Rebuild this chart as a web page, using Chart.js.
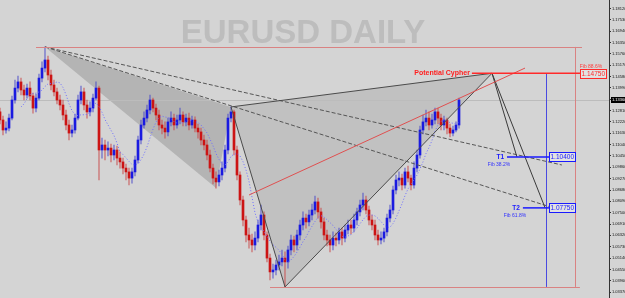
<!DOCTYPE html>
<html>
<head>
<meta charset="utf-8">
<title>EURUSD Daily</title>
<script src="https://cdn.jsdelivr.net/npm/chart.js@4.4.0/dist/chart.umd.min.js"></script>
<style>
  html, body { margin: 0; padding: 0; background: #d4d4d4; }
  #wrap { width: 625px; height: 298px; }
</style>
</head>
<body>
<div id="wrap"><canvas id="chart" width="625" height="298"></canvas></div>
<script>
// Daily candles
const opens = [
  1.1274,1.1232,1.1180,1.1190,1.1242,1.1336,1.1398,1.1430,1.1388,1.1362,
  1.1398,1.1357,1.1294,1.1346,1.1450,1.1502,1.1544,1.1466,1.1414,1.1378,
  1.1336,1.1310,1.1258,1.1206,1.1164,1.1180,1.1242,1.1336,1.1378,1.1310,
  1.1274,1.1294,1.1346,1.1398,1.1076,1.1102,1.1076,1.1086,1.1050,1.1076,
  1.1034,1.1014,1.0982,1.0962,1.0930,1.0962,1.1024,1.1128,1.1206,1.1242,
  1.1284,1.1336,1.1294,1.1258,1.1206,1.1190,1.1170,1.1222,1.1242,1.1206,
  1.1232,1.1258,1.1222,1.1242,1.1206,1.1232,1.1190,1.1170,1.1128,1.1102,
  1.1050,1.0982,1.0930,1.0910,1.0946,1.0982,1.1076,1.1242,1.1274,1.1076,
  1.0946,1.0816,1.0712,1.0634,1.0608,1.0582,1.0618,1.0686,1.0738,1.0634,
  1.0514,1.0442,1.0452,1.0478,1.0494,1.0514,1.0494,1.0556,1.0608,1.0582,
  1.0634,1.0686,1.0722,1.0702,1.0738,1.0764,1.0806,1.0754,1.0702,1.0634,
  1.0608,1.0582,1.0618,1.0608,1.0650,1.0618,1.0660,1.0686,1.0670,1.0712,
  1.0754,1.0790,1.0816,1.0764,1.0712,1.0686,1.0634,1.0608,1.0618,1.0650,
  1.0722,1.0764,1.0868,1.0920,1.0930,1.0894,1.0962,1.0930,1.0894,1.0982,
  1.1050,1.1180,1.1222,1.1242,1.1206,1.1232,1.1274,1.1242,1.1206,1.1232,
  1.1190,1.1164,1.1180,1.1206
];
const highs = [
  1.1294,1.1253,1.1222,1.1263,1.1357,1.1440,1.1461,1.1450,1.1414,1.1419,
  1.1430,1.1372,1.1367,1.1471,1.1534,1.1612,1.1565,1.1492,1.1440,1.1398,
  1.1362,1.1336,1.1284,1.1232,1.1206,1.1263,1.1362,1.1409,1.1398,1.1336,
  1.1326,1.1367,1.1430,1.1409,1.1138,1.1128,1.1118,1.1107,1.1102,1.1097,
  1.1066,1.1034,1.1003,1.0982,1.0982,1.1045,1.1149,1.1232,1.1274,1.1310,
  1.1362,1.1346,1.1315,1.1284,1.1232,1.1222,1.1242,1.1274,1.1263,1.1258,
  1.1294,1.1274,1.1263,1.1268,1.1253,1.1248,1.1211,1.1190,1.1154,1.1128,
  1.1076,1.1003,1.0962,1.0972,1.1014,1.1102,1.1263,1.1300,1.1284,1.1097,
  1.0962,1.0837,1.0733,1.0670,1.0639,1.0650,1.0712,1.0790,1.0754,1.0650,
  1.0535,1.0483,1.0504,1.0530,1.0556,1.0546,1.0577,1.0634,1.0629,1.0660,
  1.0712,1.0754,1.0743,1.0764,1.0795,1.0837,1.0826,1.0774,1.0722,1.0660,
  1.0634,1.0650,1.0644,1.0670,1.0670,1.0686,1.0712,1.0712,1.0743,1.0774,
  1.0816,1.0852,1.0837,1.0785,1.0738,1.0712,1.0660,1.0650,1.0670,1.0743,
  1.0790,1.0889,1.0946,1.0962,1.0951,1.0982,1.0993,1.0946,1.1014,1.1076,
  1.1201,1.1258,1.1284,1.1274,1.1263,1.1294,1.1294,1.1263,1.1253,1.1242,
  1.1211,1.1201,1.1222,1.1346
];
const lows = [
  1.1211,1.1154,1.1164,1.1175,1.1232,1.1320,1.1378,1.1362,1.1336,1.1346,
  1.1336,1.1268,1.1274,1.1336,1.1430,1.1482,1.1440,1.1388,1.1357,1.1315,
  1.1284,1.1232,1.1180,1.1128,1.1144,1.1164,1.1232,1.1315,1.1284,1.1242,
  1.1253,1.1274,1.1336,1.0920,1.1034,1.1024,1.1045,1.1014,1.1024,1.0998,
  1.0982,1.0951,1.0920,1.0894,1.0904,1.0941,1.1008,1.1107,1.1190,1.1222,
  1.1263,1.1274,1.1232,1.1180,1.1159,1.1138,1.1149,1.1201,1.1180,1.1190,
  1.1211,1.1201,1.1201,1.1180,1.1190,1.1170,1.1138,1.1102,1.1076,1.1024,
  1.0962,1.0899,1.0878,1.0889,1.0920,1.0962,1.1055,1.1222,1.1050,1.0920,
  1.0790,1.0681,1.0598,1.0566,1.0546,1.0556,1.0598,1.0660,1.0608,1.0494,
  1.0400,1.0410,1.0426,1.0452,1.0473,1.0364,1.0462,1.0530,1.0546,1.0556,
  1.0608,1.0660,1.0670,1.0681,1.0712,1.0743,1.0722,1.0670,1.0608,1.0577,
  1.0546,1.0556,1.0577,1.0587,1.0582,1.0598,1.0639,1.0639,1.0650,1.0686,
  1.0733,1.0764,1.0743,1.0686,1.0660,1.0608,1.0582,1.0587,1.0598,1.0629,
  1.0702,1.0743,1.0847,1.0889,1.0868,1.0878,1.0910,1.0868,1.0878,1.0962,
  1.1034,1.1159,1.1201,1.1180,1.1190,1.1211,1.1211,1.1180,1.1180,1.1159,
  1.1144,1.1149,1.1170,1.1190
];
const closes = [
  1.1232,1.1180,1.1190,1.1242,1.1336,1.1398,1.1430,1.1388,1.1362,1.1398,
  1.1357,1.1294,1.1346,1.1450,1.1502,1.1544,1.1466,1.1414,1.1378,1.1336,
  1.1310,1.1258,1.1206,1.1164,1.1180,1.1242,1.1336,1.1378,1.1310,1.1274,
  1.1294,1.1346,1.1398,1.1076,1.1102,1.1076,1.1086,1.1050,1.1076,1.1034,
  1.1014,1.0982,1.0962,1.0930,1.0962,1.1024,1.1128,1.1206,1.1242,1.1284,
  1.1336,1.1294,1.1258,1.1206,1.1190,1.1170,1.1222,1.1242,1.1206,1.1232,
  1.1258,1.1222,1.1242,1.1206,1.1232,1.1190,1.1170,1.1128,1.1102,1.1050,
  1.0982,1.0930,1.0910,1.0946,1.0982,1.1076,1.1242,1.1274,1.1076,1.0946,
  1.0816,1.0712,1.0634,1.0608,1.0582,1.0618,1.0686,1.0738,1.0634,1.0514,
  1.0442,1.0452,1.0478,1.0494,1.0514,1.0494,1.0556,1.0608,1.0582,1.0634,
  1.0686,1.0722,1.0702,1.0738,1.0764,1.0806,1.0754,1.0702,1.0634,1.0608,
  1.0582,1.0618,1.0608,1.0650,1.0618,1.0660,1.0686,1.0670,1.0712,1.0754,
  1.0790,1.0816,1.0764,1.0712,1.0686,1.0634,1.0608,1.0618,1.0650,1.0722,
  1.0764,1.0868,1.0920,1.0930,1.0894,1.0962,1.0930,1.0894,1.0982,1.1050,
  1.1180,1.1222,1.1242,1.1206,1.1232,1.1274,1.1242,1.1206,1.1232,1.1190,
  1.1164,1.1180,1.1206,1.1336
];

// price axis labels
const yTicks = [
  1.1812,1.1753,1.1694,1.1635,1.1576,1.1517,1.1458,1.1399,1.1340,1.1281,
  1.1222,1.1163,1.1104,1.1045,1.0986,1.0927,1.0868,1.0809,1.0750,1.0691,
  1.0632,1.0573,1.0514,1.0455,1.0396,1.0337
];

// Cypher pattern X A B C D (bar index / price)
const patternIdx = [15, 72, 77, 95, 164];
const patternPrice = [1.1612, 1.0878, 1.1300, 1.0364, 1.1475];

// red trend line and dashed rays from X
const trendIdx = [83, 175];
const trendPrice = [1.0842, 1.1502];
const rayEndIdx = [187.3, 187.7];
const rayEndPrice = [1.0998, 1.0759];

// targets
const targetNames = ['T1', 'T2'];
const targetFibs = ['Fib 38.2%', 'Fib 61.8%'];
const targetPrice = [1.1040, 1.0775];
const targetHitIdx = [172.3, 181.7];
const targetLineStart = [169, 174.3];
const dLabel = 'Potential Cypher';
const dFib = 'Fib 88.6%';
const dLineStart = 157.3;
const boxIdx = 183;
const blueVertIdx = 182;
const redVertIdx = 191.7;
const xLevelSpan = [12, 194];
const cLevelSpan = [90, 193.3];
const titleText = 'EURUSD DAILY';

const maPeriod = 8;
const maValues = closes.map((c, i) => {
  if (i < maPeriod - 1) return null;
  let s = 0;
  for (let k = i - maPeriod + 1; k <= i; k++) s += closes[k];
  return s / maPeriod;
});

const bull = closes.map((c, i) => c >= opens[i]);
const bodyColors = bull.map(b => b ? '#1a1ae0' : '#cc1414');
const wickColors = bull.map(b => b ? 'rgba(70,70,200,0.55)' : 'rgba(200,70,70,0.55)');

const fmt = v => v.toFixed(5);

const overlayPlugin = {
  id: 'overlay',
  beforeDatasetsDraw(chart) {
    const ctx = chart.ctx;
    const X = v => chart.scales.x.getPixelForValue(v);
    const Y = v => chart.scales.y.getPixelForValue(v);
    const area = chart.chartArea;
    ctx.save();
    ctx.beginPath();
    ctx.rect(area.left, area.top, area.right - area.left, area.bottom - area.top);
    ctx.clip();

    // watermark
    ctx.fillStyle = '#bdbdbd';
    ctx.font = 'bold 33px "Liberation Sans", Arial, sans-serif';
    ctx.textAlign = 'center';
    ctx.textBaseline = 'middle';
    ctx.fillText(titleText, 303, 34);

    const P = k => [X(patternIdx[k]), Y(patternPrice[k])];
    // XAB triangle
    ctx.fillStyle = '#b4b4b4';
    ctx.beginPath();
    ctx.moveTo(...P(0)); ctx.lineTo(...P(1)); ctx.lineTo(...P(2)); ctx.closePath();
    ctx.fill();
    // BCD triangle
    ctx.fillStyle = '#c1c1c1';
    ctx.beginPath();
    ctx.moveTo(...P(2)); ctx.lineTo(...P(3)); ctx.lineTo(...P(4)); ctx.closePath();
    ctx.fill();

    // current price line
    const yl = Math.round(Y(closes[closes.length - 1])) + 0.5;
    ctx.strokeStyle = '#bcbcbc';
    ctx.lineWidth = 1;
    ctx.beginPath(); ctx.moveTo(area.left, yl); ctx.lineTo(area.right, yl); ctx.stroke();
    ctx.restore();
  },
  afterDatasetsDraw(chart) {
    const ctx = chart.ctx;
    const X = v => chart.scales.x.getPixelForValue(v);
    const Y = v => chart.scales.y.getPixelForValue(v);
    const r = v => Math.round(v) + 0.5;
    const line = (x1, y1, x2, y2) => { ctx.beginPath(); ctx.moveTo(x1, y1); ctx.lineTo(x2, y2); ctx.stroke(); };
    const P = k => [X(patternIdx[k]), Y(patternPrice[k])];
    ctx.save();
    ctx.lineWidth = 1;

    // dashed rays from X
    ctx.strokeStyle = '#555555';
    ctx.setLineDash([4, 2]);
    for (let k = 0; k < 2; k++) line(...P(0), X(rayEndIdx[k]), Y(rayEndPrice[k]));
    ctx.setLineDash([]);

    // pattern legs
    ctx.strokeStyle = '#4a4a4a';
    line(...P(2), ...P(3));
    line(...P(3), ...P(4));
    line(...P(2), ...P(4));

    // projection legs from D
    ctx.strokeStyle = '#3a3a3a';
    for (let k = 0; k < 2; k++) line(...P(4), X(targetHitIdx[k]), Y(targetPrice[k]));

    // red trend line
    ctx.strokeStyle = '#e05050';
    line(X(trendIdx[0]), Y(trendPrice[0]), X(trendIdx[1]), Y(trendPrice[1]));

    // range box lines
    ctx.strokeStyle = '#d98282';
    line(X(xLevelSpan[0]), r(Y(patternPrice[0])), X(xLevelSpan[1]), r(Y(patternPrice[0])));
    line(X(cLevelSpan[0]), r(Y(patternPrice[3])), X(cLevelSpan[1]), r(Y(patternPrice[3])));
    line(r(X(redVertIdx)), Y(patternPrice[0]), r(X(redVertIdx)), Y(patternPrice[3]));
    ctx.strokeStyle = '#4a4ae0';
    line(r(X(blueVertIdx)), Y(patternPrice[4]), r(X(blueVertIdx)), Y(patternPrice[3]));

    // D level
    const yd = Y(patternPrice[4]);
    ctx.strokeStyle = '#ff2a2a';
    ctx.lineWidth = 1.5;
    line(X(dLineStart), yd, X(xLevelSpan[1]), yd);
    ctx.lineWidth = 1;
    ctx.fillStyle = '#ff1e1e';
    ctx.font = 'bold 7px "Liberation Sans", Arial, sans-serif';
    ctx.textAlign = 'right';
    ctx.textBaseline = 'middle';
    ctx.fillText(dLabel, X(dLineStart) - 2, yd - 0.5);
    ctx.font = '5px "Liberation Sans", Arial, sans-serif';
    ctx.textAlign = 'center';
    ctx.fillStyle = '#ff3b3b';
    ctx.fillText(dFib, X(xLevelSpan[1]) + 9, yd - 7);
    const drawBox = (x, y, text, color) => {
      ctx.font = '6.5px "Liberation Sans", Arial, sans-serif';
      const w = ctx.measureText(text).width + 3;
      ctx.fillStyle = '#e2e2e2';
      ctx.fillRect(x, y - 4.5, w, 9);
      ctx.strokeStyle = color;
      ctx.strokeRect(Math.round(x) + 0.5, Math.round(y - 4.5) + 0.5, Math.round(w), 9);
      ctx.fillStyle = color;
      ctx.textAlign = 'left';
      ctx.textBaseline = 'middle';
      ctx.fillText(text, x + 1.5, y + 0.5);
    };
    drawBox(X(xLevelSpan[1]) - 2, yd, fmt(patternPrice[4]), '#ff2a2a');

    // targets
    for (let k = 0; k < 2; k++) {
      const yt = Y(targetPrice[k]);
      ctx.strokeStyle = '#1a1aff';
      ctx.lineWidth = 1.5;
      line(X(targetLineStart[k]), yt, X(boxIdx), yt);
      ctx.lineWidth = 1;
      ctx.fillStyle = '#1a1aff';
      ctx.font = 'bold 6.5px "Liberation Sans", Arial, sans-serif';
      ctx.textAlign = 'right';
      ctx.textBaseline = 'middle';
      ctx.fillText(targetNames[k], X(targetLineStart[k]) - 3, yt);
      ctx.font = '5px "Liberation Sans", Arial, sans-serif';
      ctx.textAlign = 'center';
      ctx.fillStyle = '#3030ff';
      ctx.fillText(targetFibs[k], X(targetLineStart[k]) - 8, yt + 8);
      drawBox(X(boxIdx), yt, fmt(targetPrice[k]), '#1a1aff');
    }
    ctx.restore();
  },
  afterDraw(chart) {
    const ctx = chart.ctx;
    const ys = chart.scales.y;
    const y = ys.getPixelForValue(closes[closes.length - 1]);
    ctx.save();
    ctx.fillStyle = '#000';
    ctx.fillRect(ys.left + 2, Math.round(y) - 3, ys.right - ys.left - 2, 6);
    ctx.fillStyle = '#fff';
    ctx.font = '4px "Liberation Sans", Arial, sans-serif';
    ctx.textAlign = 'left';
    ctx.textBaseline = 'middle';
    ctx.fillText(fmt(closes[closes.length - 1]), ys.left + 3, Math.round(y));
    ctx.restore();
  }
};

const idx = closes.map((c, i) => i);

new Chart(document.getElementById('chart').getContext('2d'), {
  type: 'bar',
  data: {
    datasets: [
      {
        type: 'line',
        data: idx.map(i => ({ x: i, y: maValues[i] })),
        borderColor: '#6d6dff',
        borderWidth: 1,
        borderDash: [1, 2],
        pointRadius: 0,
        spanGaps: false
      },
      {
        data: idx.map(i => ({ x: i, y: [opens[i], closes[i]] })),
        backgroundColor: bodyColors,
        barThickness: 2,
        minBarLength: 1,
        grouped: false
      },
      {
        data: idx.map(i => ({ x: i, y: [lows[i], highs[i]] })),
        backgroundColor: wickColors,
        barThickness: 1,
        grouped: false
      }
    ]
  },
  options: {
    responsive: false,
    animation: false,
    layout: { padding: 0 },
    plugins: {
      legend: { display: false },
      tooltip: { enabled: false }
    },
    scales: {
      x: {
        type: 'linear',
        display: false,
        offset: false,
        min: 0,
        max: 203
      },
      y: {
        position: 'right',
        min: 1.03064,
        max: 1.1856,
        afterBuildTicks: scale => { scale.ticks = yTicks.map(v => ({ value: v })); },
        afterFit: scale => { scale.width = 16; scale.paddingTop = 0; scale.paddingBottom = 0; },
        border: { display: true, color: '#333', width: 1 },
        grid: { display: true, drawOnChartArea: false, tickLength: 2, color: '#333' },
        ticks: {
          autoSkip: false,
          padding: 1,
          color: '#111',
          font: { size: 4, family: '"Liberation Sans", Arial, sans-serif' },
          callback: v => fmt(v)
        }
      }
    }
  },
  plugins: [overlayPlugin]
});
</script>
</body>
</html>
